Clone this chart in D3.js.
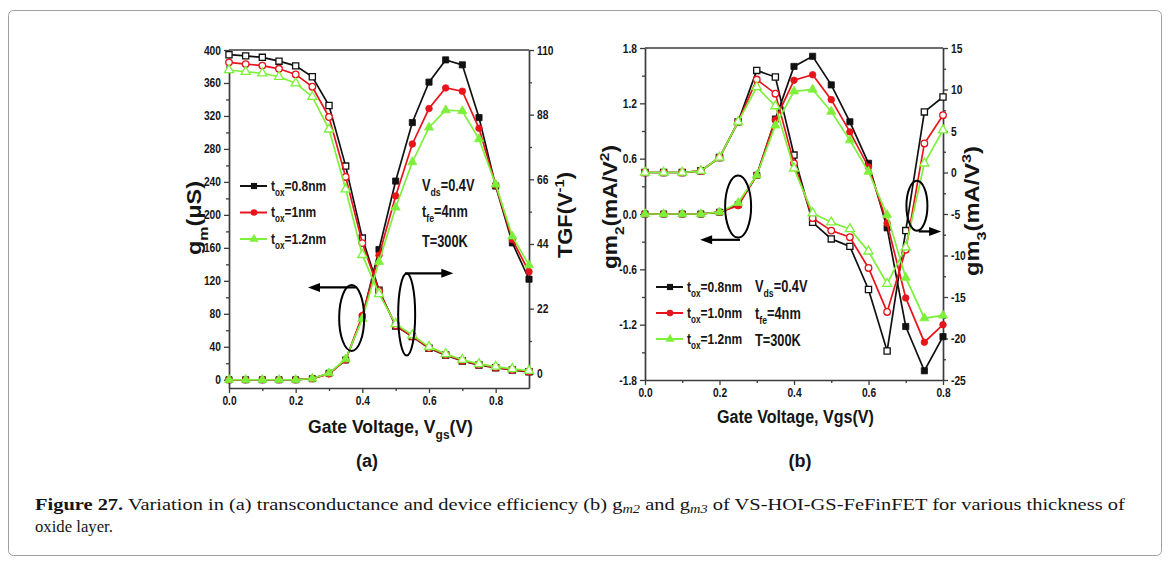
<!DOCTYPE html>
<html>
<head>
<meta charset="utf-8">
<script src="https://cdn.jsdelivr.net/npm/d3@7"></script>
<style>
body { margin: 0; background: #fff; }
svg text { font-family: "Liberation Sans", Arial, sans-serif; font-weight: bold; fill: #151515; }
svg text.cap { font-family: "Liberation Serif", "DejaVu Serif", serif; font-weight: normal; }
</style>
</head>
<body>
<svg id="fig" width="1170" height="564"></svg>
<script>
// ---- panel (a) data : gm (left axis, filled) and TGF (right axis, hollow)
const vgsA = [0, 0.05, 0.1, 0.15, 0.2, 0.25, 0.3, 0.35, 0.4, 0.45, 0.5, 0.55, 0.6, 0.65, 0.7, 0.75, 0.8, 0.85, 0.9];
const gm_08 = [0, 0, 0, 0, 0, 1.3, 7.8, 24, 76, 158, 241, 312, 361, 388, 382, 318, 235, 166, 122];
const gm_10 = [0, 0, 0, 0, 0, 1.3, 7, 24, 78, 151, 223, 286, 329, 354, 350, 305, 236, 170, 131];
const gm_12 = [0, 0, 0, 0, 0, 1.5, 8, 25, 74, 143, 209, 264, 306, 327, 326, 292, 237, 174, 139];
const tgf_08 = [108.4, 108.0, 107.5, 106.2, 104.6, 100.9, 91.1, 70.5, 46.0, 28.3, 16.1, 12.5, 8.5, 6.2, 4.2, 2.8, 1.9, 1.1, 0.5];
const tgf_10 = [105.8, 105.2, 104.7, 103.6, 101.7, 97.5, 87.2, 66.8, 44.3, 28.0, 16.3, 12.6, 8.6, 6.3, 4.3, 2.9, 2.0, 1.2, 0.6];
const tgf_12 = [103.2, 102.6, 102.1, 100.9, 98.7, 94.1, 83.0, 62.6, 40.3, 27.0, 16.8, 13.0, 9.0, 6.6, 4.6, 3.2, 2.3, 1.5, 0.9];

// ---- panel (b) data : gm2 (left axis, filled) and gm3 (right axis, hollow)
const vgsB = [0, 0.05, 0.1, 0.15, 0.2, 0.25, 0.3, 0.35, 0.4, 0.45, 0.5, 0.55, 0.6, 0.65, 0.7, 0.75, 0.8];
const gm2_08 = [0, 0, 0, 0, 0.02, 0.10, 0.42, 1.03, 1.60, 1.71, 1.40, 1.00, 0.55, -0.15, -1.22, -1.70, -1.33];
const gm2_10 = [0, 0, 0, 0, 0.02, 0.09, 0.42, 1.02, 1.45, 1.51, 1.24, 0.89, 0.51, -0.10, -0.91, -1.39, -1.20];
const gm2_12 = [0, 0, 0, 0, 0.02, 0.12, 0.42, 0.96, 1.33, 1.35, 1.11, 0.80, 0.46, -0.01, -0.69, -1.13, -1.10];
const gm3_08 = [0, 0, 0, 0.2, 1.8, 6.1, 12.3, 11.5, 2.1, -6.0, -8.0, -8.9, -14.1, -21.5, -7.0, 7.3, 9.1];
const gm3_10 = [0, 0, 0, 0.2, 1.8, 6.1, 11.2, 9.5, 1.1, -5.5, -7.0, -7.8, -11.5, -16.8, -9.3, 3.5, 6.9];
const gm3_12 = [0, 0, 0, 0.2, 1.8, 6.1, 10.3, 8.0, 0.5, -4.9, -6.0, -6.8, -9.5, -13.4, -9.0, 1.1, 5.1];

const legendA = ["=0.8nm", "=1nm", "=1.2nm"];
const legendB = ["=0.8nm", "=1.0nm", "=1.2nm"];

// ticks
const aLeftTicks = [0, 40, 80, 120, 160, 200, 240, 280, 320, 360, 400];
const aLeftMinor = [20, 60, 100, 140, 180, 220, 260, 300, 340, 380];
const aRightTicks = [0, 22, 44, 66, 88, 110];
const aRightMinor = [11, 33, 55, 77, 99];
const aXTicks = [0, 0.2, 0.4, 0.6, 0.8];
const aXMinor = [0.1, 0.3, 0.5, 0.7];
const bLeftTicks = [-1.8, -1.2, -0.6, 0, 0.6, 1.2, 1.8];
const bLeftMinor = [-1.5, -0.9, -0.3, 0.3, 0.9, 1.5];
const bRightTicks = [-25, -20, -15, -10, -5, 0, 5, 10, 15];
const bRightMinor = [-22.5, -17.5, -12.5, -7.5, -2.5, 2.5, 7.5, 12.5];
const bXTicks = [0, 0.2, 0.4, 0.6, 0.8];
const bXMinor = [0.1, 0.3, 0.5, 0.7];

const colors = ["#111111", "#e8141c", "#7df03a"];
const shapes = [d3.symbolSquare, d3.symbolCircle, d3.symbolTriangle];
const shapeSize = [38, 34, 36];
const axisColor = "#3c3c3c";

const svg = d3.select("#fig");

// outer frame
svg.append("rect")
  .attr("x", 8.5).attr("y", 10.5).attr("width", 1153).attr("height", 545).attr("rx", 5)
  .attr("fill", "none").attr("stroke", "#a0a0a0").attr("stroke-width", 1);

// squeeze text horizontally around its anchor x (the figure's font is condensed)
function narrow(sel, f) {
  sel.each(function () {
    const ax = +d3.select(this).attr("x") || 0;
    d3.select(this).attr("transform", `translate(${ax},0) scale(${f},1) translate(${-ax},0)`);
  });
  return sel;
}
// squeeze to a given width
function fitWidth(sel, w) {
  const f = w / sel.node().getComputedTextLength();
  return narrow(sel, f);
}

// text with sub / sup parts
function rich(g, x, y, parts, size) {
  const t = g.append("text").attr("x", x).attr("y", y).attr("font-size", size);
  let shift = 0;
  parts.forEach(p => {
    const s = typeof p === "string" ? p : p[0];
    const kind = typeof p === "string" ? "" : p[1];
    const ts = t.append("tspan").text(s);
    let target = 0;
    if (kind === "sub") { target = size * 0.32; ts.attr("font-size", size * 0.68); }
    if (kind === "sup") { target = -size * 0.4; ts.attr("font-size", size * 0.68); }
    ts.attr("dy", target - shift);
    shift = target;
  });
  return t;
}

function drawAxis(g, make, scale, major, minor, fmt, tr) {
  g.append("g").attr("transform", tr)
    .call(make(scale).tickValues(minor).tickSize(3).tickSizeOuter(0).tickFormat(""))
    .call(a => a.select(".domain").remove())
    .call(a => a.selectAll("line").attr("stroke", axisColor).attr("stroke-width", 1.3));
  g.append("g").attr("transform", tr)
    .call(make(scale).tickValues(major).tickSize(5).tickSizeOuter(0).tickPadding(3).tickFormat(fmt))
    .call(a => a.select(".domain").attr("stroke", axisColor).attr("stroke-width", 1.7))
    .call(a => a.selectAll("line").attr("stroke", axisColor).attr("stroke-width", 1.3))
    .call(a => narrow(a.selectAll("text").attr("font-size", 12.5).attr("fill", "#151515")
      .attr("font-family", null), 0.82));
}

function drawSeries(g, x, y, xs, ys, i, hollow) {
  const pts = xs.map((v, k) => [v, ys[k]]);
  g.append("path").datum(pts)
    .attr("fill", "none").attr("stroke", colors[i]).attr("stroke-width", 1.7)
    .attr("d", d3.line().x(d => x(d[0])).y(d => y(d[1])));
  g.selectAll(null).data(pts).enter().append("path")
    .attr("transform", d => `translate(${x(d[0])},${y(d[1])})`)
    .attr("d", d3.symbol(shapes[i], shapeSize[i]))
    .attr("fill", hollow ? "#fff" : colors[i])
    .attr("stroke", colors[i]).attr("stroke-width", hollow ? 1.3 : 0.8);
}

function legend(g, x, y0, dy, labels) {
  labels.forEach((lab, i) => {
    const y = y0 + i * dy;
    g.append("line").attr("x1", x).attr("x2", x + 27).attr("y1", y).attr("y2", y)
      .attr("stroke", colors[i]).attr("stroke-width", 2);
    g.append("path").attr("transform", `translate(${x + 14},${y})`)
      .attr("d", d3.symbol(shapes[i], shapeSize[i])).attr("fill", colors[i]);
    narrow(rich(g, x + 31, y + 5, ["t", ["ox", "sub"], lab], 15), 0.8);
  });
}

function arrow(g, x1, y, x2) {
  const dir = Math.sign(x2 - x1);
  g.append("line").attr("x1", x1).attr("x2", x2 - dir * 9).attr("y1", y).attr("y2", y)
    .attr("stroke", "#000").attr("stroke-width", 2.2);
  g.append("path").attr("d", `M${x2},${y} L${x2 - dir * 12},${y - 4.5} L${x2 - dir * 12},${y + 4.5} Z`)
    .attr("fill", "#000");
}

function ellipse(g, cx, cy, rx, ry) {
  g.append("ellipse").attr("cx", cx).attr("cy", cy).attr("rx", rx).attr("ry", ry)
    .attr("fill", "none").attr("stroke", "#000").attr("stroke-width", 2);
}

function vTitle(g, cx, cy, parts, size, len) {
  const gg = g.append("g").attr("transform", `translate(${cx},${cy}) rotate(-90)`);
  const t = rich(gg, 0, size * 0.36, parts, size).attr("text-anchor", "middle");
  fitWidth(t, len);
}

// ================= panel (a)
{
  const g = svg.append("g");
  const x = d3.scaleLinear().domain([0, 0.9]).range([229, 529]);
  const yL = d3.scaleLinear().domain([-10, 400]).range([388, 50]);
  const yR = d3.scaleLinear().domain([-5, 110]).range([388, 50]);

  g.append("line").attr("x1", x(0)).attr("x2", x(0.9)).attr("y1", yL(400)).attr("y2", yL(400))
    .attr("stroke", axisColor).attr("stroke-width", 1.7);
  drawAxis(g, d3.axisBottom, x, aXTicks, aXMinor, d => d.toFixed(1), `translate(0,${yL(-10)})`);
  drawAxis(g, d3.axisLeft, yL, aLeftTicks, aLeftMinor, d => String(d), `translate(${x(0)},0)`);
  drawAxis(g, d3.axisRight, yR, aRightTicks, aRightMinor, d => String(d), `translate(${x(0.9)},0)`);

  const gms = [gm_08, gm_10, gm_12];
  const tgfs = [tgf_08, tgf_10, tgf_12];
  [0, 1, 2].forEach(i => {
    drawSeries(g, x, yR, vgsA, tgfs[i], i, true);
    drawSeries(g, x, yL, vgsA, gms[i], i, false);
  });

  legend(g, 240, 186, 26.5, legendA);
  narrow(rich(g, 422, 191, ["V", ["ds", "sub"], "=0.4V"], 16), 0.8);
  narrow(rich(g, 422, 217, ["t", ["fe", "sub"], "=4nm"], 16), 0.8);
  narrow(rich(g, 422, 247, ["T=300K"], 16), 0.8);

  ellipse(g, x(0.368), yL(75), 12.5, 33);
  arrow(g, x(0.38), yL(112), x(0.237));
  ellipse(g, x(0.533), yR(20), 8.5, 41);
  arrow(g, x(0.528), yR(34), x(0.673));

  vTitle(g, 194, 218, ["g", ["m", "sub"], "(\u03bcS)"], 20, 74);
  vTitle(g, 565, 215, ["TGF(V", ["-1", "sup"], ")"], 20, 86);
  fitWidth(rich(g, 308, 433, ["Gate Voltage, V", ["gs", "sub"], "(V)"], 19), 165);
  g.append("text").attr("x", 367).attr("y", 467).attr("text-anchor", "middle")
    .attr("font-size", 18).text("(a)");
}

// ================= panel (b)
{
  const g = svg.append("g");
  const x = d3.scaleLinear().domain([0, 0.8]).range([645, 943]);
  const yL = d3.scaleLinear().domain([-1.8, 1.8]).range([380, 48]);
  const yR = d3.scaleLinear().domain([-25, 15]).range([380, 48]);

  g.append("line").attr("x1", x(0)).attr("x2", x(0.8)).attr("y1", yL(1.8)).attr("y2", yL(1.8))
    .attr("stroke", axisColor).attr("stroke-width", 1.7);
  drawAxis(g, d3.axisBottom, x, bXTicks, bXMinor, d => d.toFixed(1), `translate(0,${yL(-1.8)})`);
  drawAxis(g, d3.axisLeft, yL, bLeftTicks, bLeftMinor, d => d.toFixed(1), `translate(${x(0)},0)`);
  drawAxis(g, d3.axisRight, yR, bRightTicks, bRightMinor, d => String(d), `translate(${x(0.8)},0)`);

  const gm2s = [gm2_08, gm2_10, gm2_12];
  const gm3s = [gm3_08, gm3_10, gm3_12];
  [0, 1, 2].forEach(i => {
    drawSeries(g, x, yR, vgsB, gm3s[i], i, true);
    drawSeries(g, x, yL, vgsB, gm2s[i], i, false);
  });

  legend(g, 656, 287, 26, legendB);
  narrow(rich(g, 755, 292, ["V", ["ds", "sub"], "=0.4V"], 16), 0.8);
  narrow(rich(g, 755, 319, ["t", ["fe", "sub"], "=4nm"], 16), 0.8);
  narrow(rich(g, 755, 346, ["T=300K"], 16), 0.8);

  ellipse(g, x(0.250), yL(0.08), 13, 31);
  arrow(g, x(0.255), yL(-0.28), x(0.148));
  ellipse(g, x(0.730), yR(-4), 10.5, 25);
  arrow(g, x(0.735), yR(-7.1), x(0.795));

  vTitle(g, 610, 207, ["gm", ["2", "sub"], "(mA/V", ["2", "sup"], ")"], 20, 124);
  vTitle(g, 972, 211, ["gm", ["3", "sub"], "(mA/V", ["3", "sup"], ")"], 20, 130);
  fitWidth(g.append("text").attr("x", 717).attr("y", 423).attr("font-size", 19)
    .text("Gate Voltage, Vgs(V)"), 157);
  g.append("text").attr("x", 800).attr("y", 467).attr("text-anchor", "middle")
    .attr("font-size", 18).text("(b)");
}

// ================= caption
{
  const t = svg.append("text").attr("class", "cap").attr("x", 35).attr("y", 510)
    .attr("font-size", 17);
  t.append("tspan").attr("font-weight", "bold").text("Figure 27.");
  t.append("tspan").text(" Variation in (a) transconductance and device efficiency (b) g");
  t.append("tspan").attr("font-style", "italic").attr("font-size", 12).attr("dy", 3).text("m2");
  t.append("tspan").attr("dy", -3).text(" and g");
  t.append("tspan").attr("font-style", "italic").attr("font-size", 12).attr("dy", 3).text("m3");
  t.append("tspan").attr("dy", -3).text(" of VS-HOI-GS-FeFinFET for various thickness of");
  fitWidth(t, 1090);
  fitWidth(svg.append("text").attr("class", "cap").attr("x", 35).attr("y", 532)
    .attr("font-size", 17).text("oxide layer."), 78);
}
</script>
</body>
</html>
